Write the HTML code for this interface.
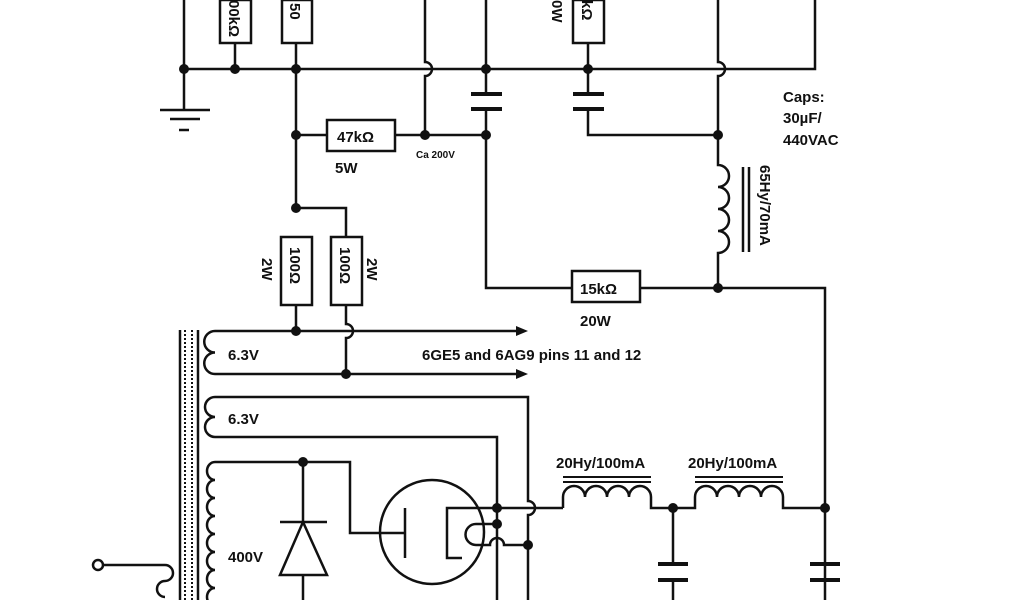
<!DOCTYPE html>
<html><head><meta charset="utf-8"><style>
html,body{margin:0;padding:0;background:#fff;}
svg{display:block}
text{font-family:"Liberation Sans",Arial,sans-serif;font-weight:bold;fill:#111}
</style></head><body>
<svg width="1024" height="600" viewBox="0 0 1024 600" xmlns="http://www.w3.org/2000/svg">
<g stroke="#111" stroke-width="2.5" fill="none">
<!-- top rail -->
<path d="M184,69 H815 V0"/>
<path d="M184,0 V110"/>
<path d="M160,110 H210 M170,119 H200 M179,130 H189"/>
<path d="M235,43 V69 M296,43 V208"/>
<rect x="220" y="0" width="31" height="43" />
<rect x="282" y="0" width="30" height="43" />
<path d="M425,0 V62 a7,7 0 0 1 0,14 V135"/>
<path d="M486,0 V94 M486,109 V288 H572 M640,288 H825 V600"/>
<path d="M588,43 V94 M588,109 V135 H718"/>
<rect x="573" y="0" width="31" height="43"/>
<path d="M718,0 V62 a7,7 0 0 1 0,14 V165 a11,11 0 0 1 0,22 a11,11 0 0 1 0,22 a11,11 0 0 1 0,22 a11,11 0 0 1 0,22 V288"/>
<path d="M743,167 V252 M749,167 V252"/>
<!-- 47k -->
<path d="M296,135 H327 M395,135 H486"/>
<rect x="327" y="120" width="68" height="31"/>
<rect x="572" y="271" width="68" height="31"/>
<!-- 100 ohm -->
<path d="M296,208 H346 V237 M296,305 V331 M346,305 V324 a7,7 0 0 1 0,14 V374"/>
<rect x="281" y="237" width="31" height="68"/>
<rect x="331" y="237" width="31" height="68"/>
<!-- heater -->
<path d="M215,331 H518 M215,374 H518"/>
<path d="M215,331 a10.75,10.75 0 0 0 0,21.5 a10.75,10.75 0 0 0 0,21.5"/>
<path d="M215,397 H528 V501 a7,7 0 0 1 0,14 V600"/>
<path d="M215,437 H497 V600"/>
<path d="M215,397 a10,10 0 0 0 0,20 a10,10 0 0 0 0,20"/>
<!-- transformer core -->
<path d="M180,330 V600 M198,330 V600"/>
<path d="M185,330 V600 M192,330 V600" stroke-dasharray="2,2" stroke-width="2"/>
<!-- 400V -->
<path d="M215,462 H350 V533 H378"/>
<path d="M215,462 a8,9 0 0 0 0,18 a8,9 0 0 0 0,18 a8,9 0 0 0 0,18 a8,9 0 0 0 0,18 a8,9 0 0 0 0,18 a8,9 0 0 0 0,18 a8,9 0 0 0 0,18 a8,9 0 0 0 0,18"/>
<path d="M303,462 V600 M280,522 H327"/>
<path d="M303,522 L280,575 H327 Z" fill="#fff"/>
<!-- tube -->
<circle cx="432" cy="532" r="52"/>
<path d="M405,508 V558 M378,533 H405"/>
<path d="M462,558 H447 V508 H563"/>
<path d="M476,524 H497 M476,545 A10.5,10.5 0 0 1 476,524 M476,545 H490 a7,7 0 0 1 14,0 H528"/>
<!-- primary -->
<circle cx="98" cy="565" r="5"/>
<path d="M103,565 H165 a8,8 0 0 1 0,16 a8,8 0 0 0 0,16"/>
<!-- chokes -->
<path d="M563,508 V497 a11,11 0 0 1 22,0 a11,11 0 0 1 22,0 a11,11 0 0 1 22,0 a11,11 0 0 1 22,0 V508 H695 V497 a11,11 0 0 1 22,0 a11,11 0 0 1 22,0 a11,11 0 0 1 22,0 a11,11 0 0 1 22,0 V508 H825"/>
<path d="M563,477 H651 M563,482 H651 M695,477 H783 M695,482 H783" stroke-width="2"/>
<path d="M673,508 V564 M673,580 V600"/>
</g>
<!-- cap plates -->
<g fill="#111">
<rect x="471" y="92" width="31" height="4"/><rect x="471" y="107" width="31" height="4"/>
<rect x="573" y="92" width="31" height="4"/><rect x="573" y="107" width="31" height="4"/>
<rect x="658" y="562" width="30" height="4"/><rect x="658" y="578" width="30" height="4"/>
<rect x="810" y="562" width="30" height="4"/><rect x="810" y="578" width="30" height="4"/>
<path d="M516,326 L528,331 L516,336 Z M516,369 L528,374 L516,379 Z"/>
<circle cx="184" cy="69" r="5"/><circle cx="235" cy="69" r="5"/><circle cx="296" cy="69" r="5"/>
<circle cx="486" cy="69" r="5"/><circle cx="588" cy="69" r="5"/>
<circle cx="296" cy="135" r="5"/><circle cx="425" cy="135" r="5"/><circle cx="486" cy="135" r="5"/>
<circle cx="718" cy="135" r="5"/><circle cx="718" cy="288" r="5"/>
<circle cx="296" cy="208" r="5"/><circle cx="296" cy="331" r="5"/><circle cx="346" cy="374" r="5"/>
<circle cx="303" cy="462" r="5"/>
<circle cx="497" cy="508" r="5"/><circle cx="497" cy="524" r="5"/><circle cx="528" cy="545" r="5"/>
<circle cx="673" cy="508" r="5"/><circle cx="825" cy="508" r="5"/>
</g>
<!-- labels -->
<text x="337" y="142" font-size="15">47kΩ</text>
<text x="335" y="173" font-size="15">5W</text>
<text x="416" y="158" font-size="10">Ca 200V</text>
<text x="580" y="294" font-size="15">15kΩ</text>
<text x="580" y="326" font-size="15">20W</text>
<text x="783" y="102" font-size="15">Caps:</text>
<text x="783" y="123" font-size="15">30µF/</text>
<text x="783" y="145" font-size="15">440VAC</text>
<text transform="translate(760,165) rotate(90)" font-size="15">65Hy/70mA</text>
<text transform="translate(229,0) rotate(90)" font-size="15">00kΩ</text>
<text transform="translate(290,3) rotate(90)" font-size="15">50</text>
<text transform="translate(582,0) rotate(90)" font-size="15">kΩ</text>
<text transform="translate(552,0) rotate(90)" font-size="15">0W</text>
<text transform="translate(290,247) rotate(90)" font-size="15">100Ω</text>
<text transform="translate(340,247) rotate(90)" font-size="15">100Ω</text>
<text transform="translate(262,258) rotate(90)" font-size="15">2W</text>
<text transform="translate(367,258) rotate(90)" font-size="15">2W</text>
<text x="228" y="360" font-size="15">6.3V</text>
<text x="422" y="360" font-size="15">6GE5 and 6AG9 pins 11 and 12</text>
<text x="228" y="424" font-size="15">6.3V</text>
<text x="228" y="562" font-size="15">400V</text>
<text x="556" y="468" font-size="15">20Hy/100mA</text>
<text x="688" y="468" font-size="15">20Hy/100mA</text>
</svg>
</body></html>
